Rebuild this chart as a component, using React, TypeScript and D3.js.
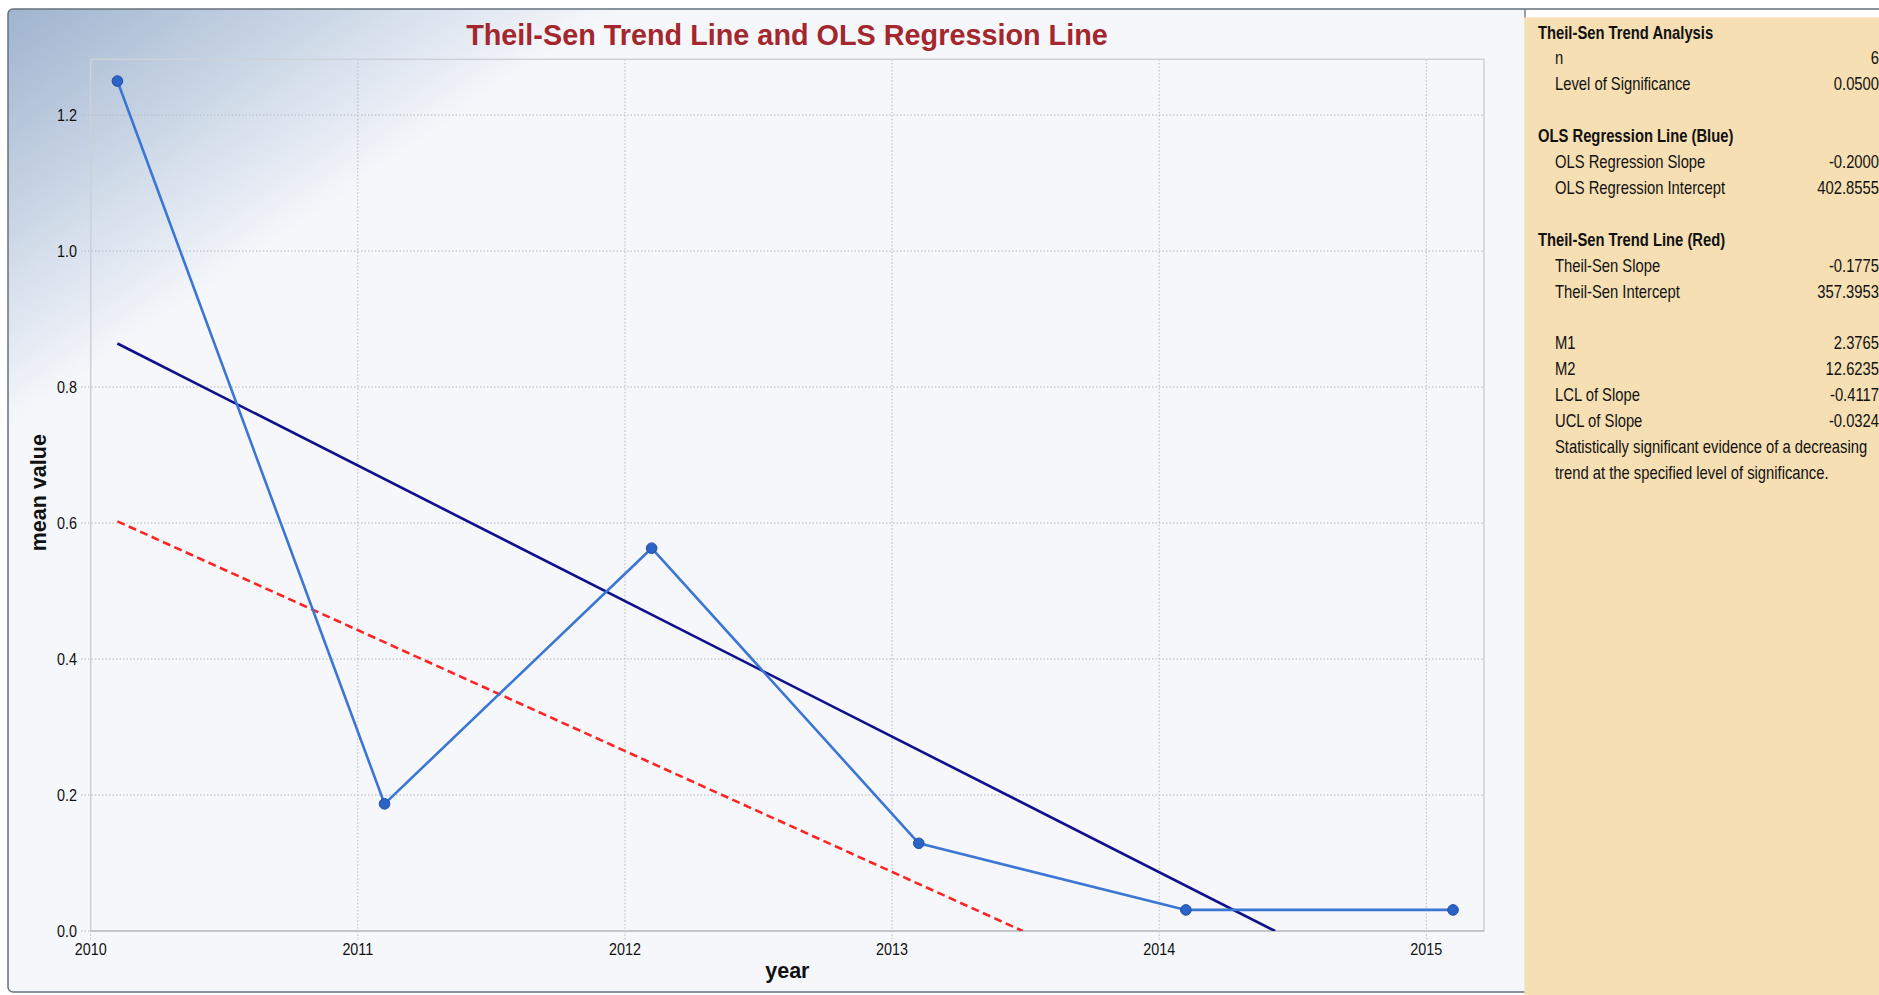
import React from 'react';
import * as d3 from 'd3';

// ---- data ----
const pointYears = [2010.1, 2011.1, 2012.1, 2013.1, 2014.1, 2015.1];
const meanValues = [1.25, 0.187, 0.563, 0.129, 0.031, 0.031];
const xTicks = [2010, 2011, 2012, 2013, 2014, 2015];
const yTicks = [0, 0.2, 0.4, 0.6, 0.8, 1.0, 1.2];
const olsLineX = [2010.1, 2014.434];
const olsLineY = [0.864, 0];
const theilLineX = [2010.1, 2013.489];
const theilLineY = [0.6025, 0];

const statKinds = ['h', 'i', 'i', '', 'h', 'i', 'i', '', 'h', 'i', 'i', '', 'i', 'i', 'i', 'i', 'i', 'i'];
const statLabels = [
  'Theil-Sen Trend Analysis', 'n', 'Level of Significance', '',
  'OLS Regression Line (Blue)', 'OLS Regression Slope', 'OLS Regression Intercept', '',
  'Theil-Sen Trend Line (Red)', 'Theil-Sen Slope', 'Theil-Sen Intercept', '',
  'M1', 'M2', 'LCL of Slope', 'UCL of Slope',
  'Statistically significant evidence of a decreasing',
  'trend at the specified level of significance.',
];
const statValues = [
  '', '6', '0.0500', '',
  '', '-0.2000', '402.8555', '',
  '', '-0.1775', '357.3953', '',
  '2.3765', '12.6235', '-0.4117', '-0.0324', '', '',
];

const W = 1879;
const H = 995;
const plot = { left: 90.7, right: 1484, top: 59.3, bottom: 931 };
const sans = "'Liberation Sans', Arial, sans-serif";
const SX = 0.845; // horizontal condensing of the small UI font

export default function App() {
  const x = d3.scaleLinear().domain([2010, 2015.216]).range([plot.left, plot.right]);
  const y = d3.scaleLinear().domain([0, 1.282]).range([plot.bottom, plot.top]);

  const pts = pointYears.map((yr, i) => [yr, meanValues[i]] as [number, number]);
  const line = d3.line<[number, number]>().x((d) => x(d[0])).y((d) => y(d[1]));
  const ols = olsLineX.map((v, i) => [v, olsLineY[i]] as [number, number]);
  const theil = theilLineX.map((v, i) => [v, theilLineY[i]] as [number, number]);

  const rowY = (i: number) => 32.3 + i * 25.9 + 6.2;
  const cond = (tx: number, ty: number) => `translate(${tx},${ty}) scale(${SX},1)`;

  return (
    <div style={{ position: 'absolute', left: 0, top: 0 }}>
      <svg width={W} height={H} style={{ display: 'block', background: '#ffffff' }}>
        <defs>
          <linearGradient id="bg" gradientUnits="userSpaceOnUse" x1={8} y1={9} x2={205} y2={294}>
            <stop offset="0" stopColor="#9fb4ce" />
            <stop offset="0.4" stopColor="#c0cee0" />
            <stop offset="0.75" stopColor="#dfe6f0" />
            <stop offset="1" stopColor="#f5f7fb" />
          </linearGradient>
          <clipPath id="plotclip">
            <rect x={plot.left} y={plot.top} width={plot.right - plot.left} height={plot.bottom - plot.top} />
          </clipPath>
        </defs>

        {/* chart frame */}
        <rect x={8} y={9} width={W + 20} height={983} rx={5} fill="url(#bg)" stroke="#66727d" strokeWidth={1.5} />

        {/* gridlines (dotted, extending as ticks) */}
        {yTicks.map((t) => (
          <line key={'gy' + t} x1={81} x2={plot.right} y1={y(t)} y2={y(t)} stroke="#b4b8be" strokeWidth={1} strokeDasharray="1.5,2" />
        ))}
        {xTicks.map((t) => (
          <line key={'gx' + t} x1={x(t)} x2={x(t)} y1={plot.top} y2={plot.bottom + 9} stroke="#b4b8be" strokeWidth={1} strokeDasharray="1.5,2" />
        ))}

        {/* plot border */}
        <rect x={plot.left} y={plot.top} width={plot.right - plot.left} height={plot.bottom - plot.top} fill="none" stroke="#cdd1d8" strokeWidth={1.5} />
        <line x1={plot.left} x2={plot.right} y1={plot.bottom} y2={plot.bottom} stroke="#c2c5cb" strokeWidth={2} />

        {/* tick labels */}
        {yTicks.map((t) => (
          <text key={'ly' + t} transform={cond(77, y(t) + 6)} textAnchor="end" fontFamily={sans} fontSize={17} fill="#111">
            {t.toFixed(1)}
          </text>
        ))}
        {xTicks.map((t) => (
          <text key={'lx' + t} transform={cond(x(t), 955)} textAnchor="middle" fontFamily={sans} fontSize={17} fill="#111">
            {t}
          </text>
        ))}

        {/* axis titles */}
        <text x={(plot.left + plot.right) / 2} y={978} textAnchor="middle" fontFamily={sans} fontWeight="bold" fontSize={21.5} fill="#111">
          year
        </text>
        <text transform="translate(45.5,492.7) rotate(-90)" textAnchor="middle" fontFamily={sans} fontWeight="bold" fontSize={21.5} fill="#111">
          mean value
        </text>

        {/* title */}
        <text x={787} y={45} textAnchor="middle" fontFamily={sans} fontWeight="bold" fontSize={28.8} fill="#a3272d">
          Theil-Sen Trend Line and OLS Regression Line
        </text>

        {/* series */}
        <g clipPath="url(#plotclip)">
          <path d={line(theil) || ''} fill="none" stroke="#ff2424" strokeWidth={2.6} strokeDasharray="8,4.5" />
          <path d={line(ols) || ''} fill="none" stroke="#10108c" strokeWidth={2.6} />
          <path d={line(pts) || ''} fill="none" stroke="#3b76d4" strokeWidth={2.6} strokeLinejoin="round" />
        </g>
        {pts.map((p, i) => (
          <circle key={'pt' + i} cx={x(p[0])} cy={y(p[1])} r={5.3} fill="#2b63c6" stroke="#1d4ea8" strokeWidth={1} />
        ))}

        {/* statistics panel */}
        <rect x={1525.5} y={10} width={W} height={8} fill="#ffffff" />
        <line x1={1525} x2={1525} y1={9} y2={18} stroke="#7a848d" strokeWidth={1.5} />
        <rect x={1524.3} y={17.3} width={W - 1524.3} height={H - 17.3} fill="#f5dfb3" />
        {statLabels.map((s, i) =>
          s ? (
            <text
              key={'sl' + i}
              transform={cond(statKinds[i] === 'h' ? 1538 : 1555, rowY(i))}
              fontFamily={sans}
              fontWeight={statKinds[i] === 'h' ? 'bold' : 'normal'}
              fontSize={17.5}
              fill="#111"
            >
              {s}
            </text>
          ) : null
        )}
        {statValues.map((v, i) =>
          v ? (
            <text key={'sv' + i} transform={cond(1879, rowY(i))} textAnchor="end" fontFamily={sans} fontSize={17.5} fill="#111">
              {v}
            </text>
          ) : null
        )}
      </svg>
    </div>
  );
}
